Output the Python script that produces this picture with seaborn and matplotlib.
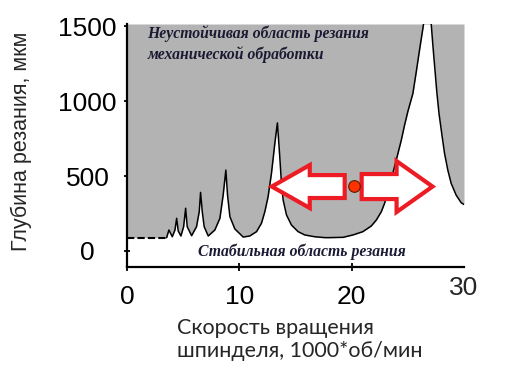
import numpy as np
import pandas as pd
import matplotlib
matplotlib.use("Agg")
import matplotlib.pyplot as plt
import matplotlib.transforms as mtransforms
from matplotlib.patches import FancyArrow
import seaborn as sns

# Grenze der Stabilitaet
flat_x = [0.0, 3.53]
flat_y = [89, 89]

lobe_x = [3.53, 3.73, 4.03, 4.27, 4.42, 4.56, 4.80, 5.04, 5.22, 5.36, 5.75,
          6.19, 6.43, 6.55, 6.7, 6.87, 7.23, 7.82, 8.27, 8.56, 8.8, 8.95,
          9.16, 9.6, 10.34, 10.93, 11.53, 11.97, 12.27, 12.56, 12.86, 13.16,
          13.39, 13.6, 13.75, 13.9, 14.2, 14.64, 15.23, 15.82, 16.71, 17.6,
          18.04, 19.23, 20.12, 21.0, 21.75, 22.2, 22.64, 22.93, 23.5, 24.12,
          24.42, 24.71, 25.0, 25.45, 25.75, 26.04, 26.34, 26.84, 27.08, 27.23,
          27.38, 27.58, 27.78, 28.06, 28.27, 28.56, 28.86, 29.3, 29.75, 30.0]
lobe_y = [89, 140, 95, 140, 218, 133, 100, 162, 285, 162, 102,
          162, 262, 391, 262, 162, 100, 140, 218, 373, 540, 373,
          229, 147, 93, 100, 129, 185, 262, 362, 518, 718,
          855, 629, 451, 340, 240, 173, 129, 107, 95, 89,
          89, 91, 107, 129, 167, 207, 262, 318, 470, 651,
          740, 840, 930, 1051, 1195, 1340, 1485, 1740, 1518, 1373,
          1240, 1062, 915, 762, 651, 540, 451, 373, 322, 310]

point_x = [20.18]
point_y = [433]

x_ticks = [0, 10, 20]
y_ticks = [0, 500, 1000, 1500]

df = pd.DataFrame({"x": lobe_x, "y": lobe_y})

sns.set_style("ticks")
plt.rcParams["font.family"] = ["Liberation Sans", "DejaVu Sans"]

fig = plt.figure(figsize=(5.14, 3.75), dpi=100)
ax = fig.add_axes([0.2471, 0.288, 0.6556, 0.648])

y_top = 1515
all_x = flat_x + lobe_x[1:]
all_y = flat_y + lobe_y[1:]
ax.fill_between(all_x, all_y, y_top, color="#b3b3b3", linewidth=0, zorder=1)

ax.plot(flat_x, flat_y, color="black", lw=1.5, ls=(0, (3.5, 1.5)), zorder=2)
sns.lineplot(data=df, x="x", y="y", color="black", lw=1.1, sort=False,
             estimator=None, ax=ax, zorder=2)

# Pfeile
red = "#ed1c24"
ax.add_patch(FancyArrow(19.38, 430, 12.89 - 19.38, 0, width=153, head_width=287,
                        head_length=3.38, length_includes_head=True,
                        facecolor="white", edgecolor=red, lw=3, zorder=4))
ax.add_patch(FancyArrow(20.89, 430, 27.2 - 20.89, 0, width=167, head_width=340,
                        head_length=3.2, length_includes_head=True,
                        facecolor="white", edgecolor=red, lw=3, zorder=4))
sns.scatterplot(x=point_x, y=point_y, s=70, color="#ff3300", edgecolor="#5a1a00",
                linewidth=0.8, ax=ax, zorder=5)

ax.set_xlim(0, 30)
ax.set_ylim(-107, y_top)
ax.set_xticks(x_ticks)
ax.set_yticks(y_ticks)
ax.tick_params(axis="both", direction="inout", width=1.3, labelsize=19, colors="black")
ax.tick_params(axis="x", length=6, pad=10)
ax.tick_params(axis="y", length=5, pad=26)
for lab in ax.get_yticklabels():
    lab.set_horizontalalignment("center")

tr = mtransforms.blended_transform_factory(ax.transData, ax.transAxes)
ax.text(30, -0.085, "30", transform=tr, ha="center", va="center", fontsize=19)

for s in ["top", "right"]:
    ax.spines[s].set_visible(False)
for s in ["left", "bottom"]:
    ax.spines[s].set_linewidth(1.6)
    ax.spines[s].set_color("black")

ax.set_ylabel("Глубина резания, мкм", fontsize=15.5)
ax.yaxis.set_label_coords(-0.282, 0.519)
ax.set_xlabel("Скорость вращения\nшпинделя, 1000*об/мин", fontsize=15.5,
              family=["Lato", "DejaVu Sans"], linespacing=1.2, multialignment="left")
ax.xaxis.label.set_verticalalignment("center")
ax.xaxis.label.set_horizontalalignment("left")
ax.xaxis.set_label_coords(0.148, -0.298)

txt = dict(family=["Liberation Serif", "DejaVu Serif"], style="italic", weight="bold",
           fontsize=11.3, color="#1a1a33", transform=ax.transAxes)
ax.text(0.06, 0.918, "Неустойчивая область резания\nмеханической обработки",
        ha="left", va="center", linespacing=1.3, **txt)
ax.text(0.21, 0.062, "Стабильная область резания", ha="left", va="center", **txt)

fig.savefig("out.png", dpi=100)
